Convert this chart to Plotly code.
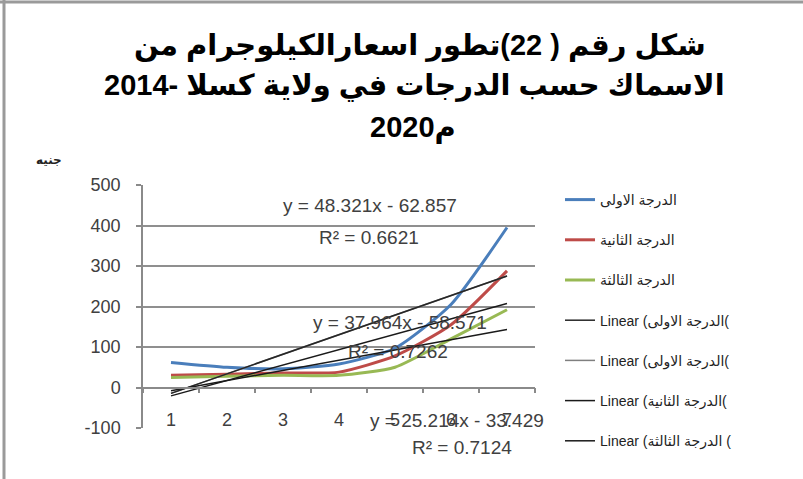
import plotly.graph_objects as go

# ---------------- data ----------------
categories = ["1", "2", "3", "4", "5", "6", "7"]
grade1 = [62, 50, 46, 58, 97, 205, 395]
grade2 = [30, 33, 36, 38, 78, 155, 288]
grade3 = [25, 28, 30, 30, 50, 120, 192]
series_names = ["الدرجة الاولى", "الدرجة الثانية", "الدرجة الثالثة"]

trend_names = ["Linear (الدرجة الاولى(", "Linear (الدرجة الاولى(",
               "Linear (الدرجة الثانية(", "Linear (الدرجة الثالثة ("]
trend_slopes = [48.321, 48.321, 37.964, 25.214]
trend_intercepts = [-62.857, -62.857, -58.571, -33.429]
equation_texts = ["y = 48.321x - 62.857", "R² = 0.6621",
                  "y = 37.964x - 58.571", "R² = 0.7262",
                  "y = 25.214x - 33.429", "R² = 0.7124"]
y_ticks = [-100, 0, 100, 200, 300, 400, 500]
y_tick_labels = ["-100", "0", "100", "200", "300", "400", "500"]
title_lines = ["شكل رقم ( 22)تطور اسعارالكيلوجرام من",
               "الاسماك حسب الدرجات في ولاية كسلا -2014",
               "2020م"]
unit_label = "جنيه"

# ---------------- layout helpers ----------------
W, H = 803, 479
L, R, T, B = 143, 535, 185, 428


def px(x):
    return (x - L) / (R - L)


def py(y):
    return (B - y) / (B - T)


FONT = "Liberation Sans, Arial, DejaVu Sans, sans-serif"
series_colors = ["#4A7EBB", "#BE4B48", "#98B954"]
trend_colors = ["#262626", "#7f7f7f", "#1a1a1a", "#1a1a1a"]

fig = go.Figure()
for i, (name, vals, col) in enumerate(zip(series_names, [grade1, grade2, grade3], series_colors)):
    fig.add_trace(go.Scatter(x=categories, y=vals, name=name, mode="lines",
                             line=dict(color=col, width=3, shape="spline", smoothing=0.6),
                             legendgroup=name, legendrank=i + 1))

# draw the duplicate (grey) trend first so the dark one sits on top
draw_order = [1, 0, 2, 3]
for i in draw_order:
    name, a, b = trend_names[i], trend_slopes[i], trend_intercepts[i]
    ty = [a * (k + 1) + b for k in range(len(categories))]
    fig.add_trace(go.Scatter(x=categories, y=ty, name=name, mode="lines",
                             line=dict(color=trend_colors[i], width=1.5),
                             legendgroup="t%d" % i, legendrank=10 + i))

ymin, ymax = y_ticks[0], y_ticks[-1]

annotations = []
for txt, (cx, cy) in zip(title_lines, [(420, 45), (414, 86), (413, 127)]):
    annotations.append(dict(text="<b>" + txt + "</b>", x=px(cx), y=py(cy), xref="paper", yref="paper",
                            showarrow=False, xanchor="center", yanchor="middle",
                            font=dict(family=FONT, size=29, color="#000000")))
annotations.append(dict(text="<b>" + unit_label + "</b>", x=px(49), y=py(160), xref="paper", yref="paper",
                        showarrow=False, xanchor="center", yanchor="middle",
                        font=dict(family="DejaVu Sans, sans-serif", size=12, color="#222222")))
eq_pos = [(370, 205), (369, 237), (400, 322), (398, 351), (457, 420), (462, 447)]
for txt, (cx, cy) in zip(equation_texts, eq_pos):
    annotations.append(dict(text=txt, x=px(cx), y=py(cy), xref="paper", yref="paper",
                            showarrow=False, xanchor="center", yanchor="middle",
                            font=dict(family=FONT, size=19, color="#404040")))

shapes = [
    dict(type="line", xref="paper", yref="paper", x0=px(0), x1=px(W), y0=py(2), y1=py(2),
         line=dict(color="#9a9a9a", width=3)),
    dict(type="line", xref="paper", yref="paper", x0=px(4), x1=px(4), y0=py(0), y1=py(H),
         line=dict(color="#9a9a9a", width=3)),
]

fig.update_layout(
    width=W, height=H,
    margin=dict(l=L, r=W - R, t=T, b=H - B, pad=0),
    paper_bgcolor="white", plot_bgcolor="white",
    showlegend=True,
    legend=dict(x=px(560), y=py(184), xanchor="left", yanchor="top",
                font=dict(family=FONT, size=14, color="#222222"),
                tracegroupgap=19, bgcolor="rgba(0,0,0,0)", maxheight=320),
    xaxis=dict(type="category", categoryorder="array", categoryarray=categories,
               range=[-0.5, len(categories) - 0.5],
               anchor="free", position=(0 - ymin) / (ymax - ymin),
               showline=True, linecolor="#8a8a8a", linewidth=1.5,
               ticks="outside", tickson="boundaries", ticklen=5, tickcolor="#8a8a8a",
               tickwidth=1.5, showgrid=False, zeroline=False,
               ticklabelstandoff=16,
               tickfont=dict(family=FONT, size=18, color="#404040")),
    yaxis=dict(range=[ymin, ymax], tickvals=y_ticks, ticktext=y_tick_labels,
               showgrid=True, gridcolor="#8f8f8f",
               gridwidth=1.5, zeroline=False, showline=True, linecolor="#8a8a8a", linewidth=1.5,
               ticks="outside", ticklen=5, tickcolor="#8a8a8a", tickwidth=1.5,
               ticklabelstandoff=12,
               tickfont=dict(family=FONT, size=18, color="#404040")),
    annotations=annotations,
    shapes=shapes,
)

fig.write_html("out.html", config={"displayModeBar": False},
               post_script="document.body.style.margin='0px';")
